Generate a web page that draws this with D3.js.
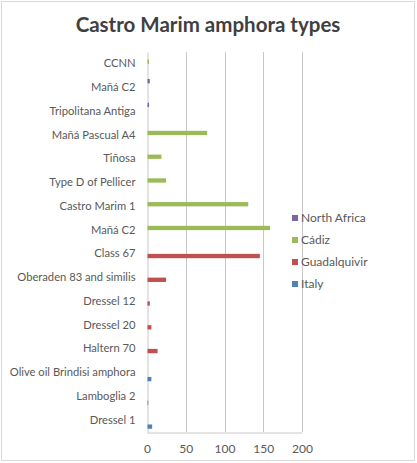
<!DOCTYPE html>
<html>
<head>
<meta charset="utf-8">
<script src="https://cdn.jsdelivr.net/npm/d3@7/dist/d3.min.js"></script>
<style>
  html, body { margin: 0; padding: 0; background: #fff; }
  svg { display: block; font-family: Lato, "Open Sans", sans-serif; }
</style>
</head>
<body>
<svg id="chart" width="417" height="463"></svg>
<script>
const title = "Castro Marim amphora types";
const categories = ["CCNN", "Mañá C2", "Tripolitana Antiga", "Mañá Pascual A4", "Tiñosa",
  "Type D of Pellicer", "Castro Marim 1", "Mañá C2", "Class 67", "Oberaden 83 and similis",
  "Dressel 12", "Dressel 20", "Haltern 70", "Olive oil Brindisi amphora", "Lamboglia 2", "Dressel 1"];
const seriesNames = ["North Africa", "Cádiz", "Guadalquivir", "Italy"];
const seriesColors = ["#8064a2", "#9bbb59", "#c0504d", "#4f81bd"];
const northAfrica = [0, 3, 2, 0, 0, 0, 0, 0, 0, 0, 0, 0, 0, 0, 0, 0];
const cadiz       = [2, 0, 0, 77, 18, 24, 130, 158, 0, 0, 0, 0, 0, 0, 0, 0];
const guadalquivir= [0, 0, 0, 0, 0, 0, 0, 0, 145, 24, 3, 5, 13, 0, 0, 0];
const italy       = [0, 0, 0, 0, 0, 0, 0, 0, 0, 0, 0, 0, 0, 5, 1, 6];
const xTicks = [0, 50, 100, 150, 200];

const seriesValues = [northAfrica, cadiz, guadalquivir, italy];
const svg = d3.select("#chart");

// outer border
svg.append("rect").attr("x", 1.5).attr("y", 1.5).attr("width", 413).attr("height", 459)
  .attr("fill", "#fff").attr("stroke", "#d9d9d9").attr("stroke-width", 1);

svg.append("text").attr("x", 208).attr("y", 32).attr("text-anchor", "middle")
  .attr("font-size", 20.5).attr("font-weight", "bold").attr("fill", "#404040").text(title);

const plot = {left: 147, right: 302, top: 52, bottom: 432};
const x = d3.scaleLinear().domain([0, 200]).range([plot.left, plot.right]);
const y = d3.scaleBand().domain(d3.range(categories.length)).range([plot.top, plot.bottom]).padding(0);
const ys = d3.scaleBand().domain(seriesNames).range([0, y.bandwidth()]).paddingInner(0).paddingOuter(0.75);

// gridlines
svg.append("g").selectAll("line").data(xTicks.slice(1)).join("line")
  .attr("x1", d => Math.round(x(d)) + 0.5).attr("x2", d => Math.round(x(d)) + 0.5)
  .attr("y1", plot.top).attr("y2", plot.bottom).attr("stroke", "#c8c8c8");

// x axis (bottom)
const xAxis = svg.append("g").attr("transform", `translate(0,${plot.bottom + 0.5})`)
  .call(d3.axisBottom(x).tickValues(xTicks).tickSize(0).tickPadding(12));
xAxis.select(".domain").attr("stroke", "#c8c8c8");
xAxis.selectAll("text").attr("font-size", 12).attr("fill", "#595959").attr("font-family", "Lato, 'Open Sans', sans-serif");

// y axis (left at 0)
const yAxis = svg.append("g").attr("transform", `translate(${Math.round(x(0)) + 0.5},0)`)
  .call(d3.axisLeft(y).tickFormat(i => categories[i]).tickSize(0).tickPadding(12));
yAxis.select(".domain").attr("stroke", "#c8c8c8");
yAxis.selectAll("text").attr("font-size", 11.2).attr("fill", "#595959").attr("font-family", "Lato, 'Open Sans', sans-serif");

// bars
seriesNames.forEach((name, si) => {
  svg.append("g").selectAll("rect").data(seriesValues[si].map((v, i) => ({v, i})).filter(d => d.v > 0))
    .join("rect")
    .attr("x", x(0) + 0.5)
    .attr("y", d => y(d.i) + ys(name))
    .attr("width", d => x(d.v) - x(0))
    .attr("height", ys.bandwidth())
    .attr("fill", seriesColors[si]);
});

// legend
const legend = svg.append("g");
seriesNames.forEach((name, i) => {
  const cy = 218 + i * 22;
  legend.append("rect").attr("x", 292).attr("y", cy - 3).attr("width", 6).attr("height", 6).attr("fill", seriesColors[i]);
  legend.append("text").attr("x", 301).attr("y", cy).attr("dy", "0.35em")
    .attr("font-size", 12).attr("fill", "#595959").text(name);
});
</script>
</body>
</html>
